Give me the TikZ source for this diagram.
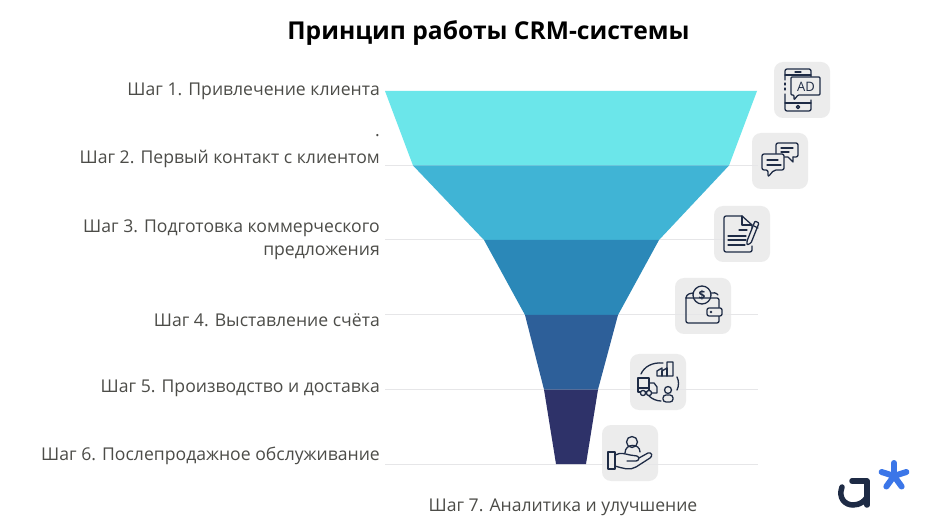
\documentclass[tikz,border=0pt]{standalone}
\usepackage{fontspec}
\setmainfont{Open Sans}
\definecolor{seglight}{HTML}{6BE6EA}
\definecolor{segsky}{HTML}{40B4D5}
\definecolor{segmid}{HTML}{2B88B8}
\definecolor{segdeep}{HTML}{2D5F99}
\definecolor{segnavy}{HTML}{2E3269}
\definecolor{guide}{HTML}{E6E6E8}
\definecolor{tilegray}{HTML}{ECECEC}
\definecolor{inkdark}{HTML}{1E2B45}
\definecolor{textgray}{HTML}{4C4C48}
\definecolor{logoblue}{HTML}{3B76E8}
\tikzset{
  steplabel/.style={anchor=east, align=right, text=textgray, font=\fontsize{17.6}{23}\selectfont, inner sep=0pt},
  tilebox/.style={fill=tilegray, rounded corners=9pt, minimum size=56pt, inner sep=0pt},
  guideline/.style={draw=guide, line width=1pt},
  ink/.style={draw=inkdark, line width=1.3pt, line join=round, line cap=round}
}
\begin{document}
\begin{tikzpicture}[x=1pt,y=-1pt]
  \useasboundingbox (0,0) rectangle (940,529);
  \fill[white] (0,0) rectangle (940,529);

  \node[font=\bfseries\fontsize{24.6}{28}\selectfont, text=black] (title) at (488.5,33) {Принцип работы CRM-системы};

  % tiles
  \node[tilebox] (tile1) at (802,90) {};
  \node[tilebox] (tile2) at (780,161) {};
  \node[tilebox] (tile3) at (742,234) {};
  \node[tilebox] (tile4) at (703,306) {};
  \node[tilebox] (tile5) at (658,382) {};
  \node[tilebox] (tile6) at (630,453) {};

  % guide lines
  \foreach \y in {165.5,240,315,389.5,464}
    \draw[guideline] (385,\y) -- (758,\y);

  % funnel
  \fill[seglight] (385,91) -- (757,91) -- (729,165.5) -- (413,165.5) -- cycle;
  \fill[segsky] (413,165.5) -- (729,165.5) -- (659,240) -- (484,240) -- cycle;
  \fill[segmid] (484,240) -- (659,240) -- (618,315) -- (525,315) -- cycle;
  \fill[segdeep] (525,315) -- (618,315) -- (598,389.5) -- (544,389.5) -- cycle;
  \fill[segnavy] (544,389.5) -- (598,389.5) -- (586,464) -- (556,464) -- cycle;

  % labels
  \node[steplabel] (step1) at (380,91) {Шаг 1. Привлечение клиента};
  \node[steplabel] (dot) at (380,136) {.};
  \node[steplabel] (step2) at (380,159) {Шаг 2. Первый контакт с клиентом};
  \node[steplabel] (step3) at (380,239.5) {Шаг 3. Подготовка коммерческого\\предложения};
  \node[steplabel] (step4) at (380,320) {Шаг 4. Выставление счёта};
  \node[steplabel] (step5) at (380,388) {Шаг 5. Производство и доставка};
  \node[steplabel] (step6) at (380,456) {Шаг 6. Послепродажное обслуживание};
  \node[steplabel, anchor=center] (step7) at (563,507) {Шаг 7. Аналитика и улучшение};

  % phone with AD
  \begin{scope}[shift={(tile1.center)}]
    \draw[ink, rounded corners=2pt] (9,-13) -- (9,-21) -- (-17,-21) -- (-17,-10);
    \draw[ink, rounded corners=2pt] (-17,4) -- (-17,21) -- (9,21) -- (9,10);
    \draw[ink] (-17,-7) -- (-17,-5) (-17,-2) -- (-17,0);
    \draw[ink] (-17,-15) -- (9,-15) (-17,13) -- (9,13);
    \draw[ink] (-7,-18) -- (-1,-18);
    \draw[ink] (-4,17) circle (1.6);
    \draw[ink, fill=tilegray, rounded corners=1pt] (-11,-13) -- (18,-13) -- (18,5) -- (-4,5) -- (-8,10) -- (-8,5) -- (-11,5) -- cycle;
    \node[font=\fontsize{13}{13}\selectfont, text=inkdark, inner sep=0pt] (adtext) at (4,-3.5) {AD};
  \end{scope}

  % chat bubbles
  \begin{scope}[shift={(tile2.center)}]
    \draw[ink, rounded corners=2pt] (13,-4) -- (18,-4) -- (18,-18) -- (-4,-18) -- (-4,-7);
    \draw[ink] (8,-4) -- (13,1) -- (13,-4) (4,-4) -- (8,-4);
    \draw[ink] (1,-13) -- (13,-13) (1,-9) -- (9,-9);
    \draw[ink, fill=tilegray, rounded corners=2pt] (-18,-7) -- (4,-7) -- (4,9) -- (-6,9) -- (-12,16) -- (-12,9) -- (-18,9) -- cycle;
    \draw[ink] (-13,-1) -- (-2,-1) (-13,4) -- (1,4);
  \end{scope}

  % document and pen
  \begin{scope}[shift={(tile3.center)}]
    \draw[ink, rounded corners=2pt] (0,-18) -- (-18,-18) -- (-18,18) -- (10,18) -- (10,12);
    \draw[ink] (0,-18) -- (10,-9) -- (10,-4);
    \draw[ink] (0,-18) -- (0,-9) -- (10,-9);
    \draw[ink] (-3,-4) -- (5,-4) (-14,2) -- (4,2) (-14,6) -- (4,6) (-14,11) -- (3,11);
    \draw[ink, fill=tilegray, rounded corners=1pt] (5,7) -- (13,-13) -- (17,-11) -- (9,9) -- (5,11) -- cycle;
    \draw[ink] (12,-8) -- (16,-6);
  \end{scope}

  % wallet
  \begin{scope}[shift={(tile4.center)}]
    \draw[ink] (-17,-8) .. controls (-17,-12) and (-12,-13) .. (-9,-13);
    \draw[ink] (7,-13) .. controls (10,-14) and (14,-13) .. (15,-11);
    \draw[ink, fill=tilegray] (-1,-11) circle (9);
    \node[font=\bfseries\fontsize{12}{12}\selectfont, text=inkdark, inner sep=0pt] (dollar) at (-1,-11) {\$};
    \draw[ink, rounded corners=2pt] (-17,-8) -- (-17,17) -- (16,17) -- (16,10);
    \draw[ink, rounded corners=2pt] (16,2) -- (16,-8) -- (-17,-8);
    \draw[ink, fill=tilegray, rounded corners=2pt] (4,2) -- (19,2) -- (19,10) -- (4,10) -- cycle;
    \fill[inkdark] (8,6) circle (1.3);
  \end{scope}

  % truck with cycle
  \begin{scope}[shift={(tile5.center)}]
    \draw[ink] (-17,-8) .. controls (-14,-15) and (-6,-20) .. (5,-19);
    \draw[ink] (19,-5) .. controls (21,-1) and (21,4) .. (19,8);
    \draw[ink] (-9,14) .. controls (-6,17) and (-1,19) .. (3,19);
    \draw[ink] (-20,-4) rectangle (-9,10);
    \draw[ink] (-9,1) -- (-4,1) -- (-1,5) -- (-1,11) -- (-6,11);
    \draw[ink] (-20,6) -- (-9,6);
    \draw[ink, fill=tilegray] (-15,11) circle (2.6) (-9,11) circle (2.6);
    \draw[ink] (-1,-6) -- (-1,-11) -- (4,-14) -- (4,-11) -- (9,-14) -- (9,-20) -- (15,-20) -- (15,-6) -- cycle;
    \draw[ink] (9,-14) -- (9,-6) (4,-11) -- (4,-6);
    \draw[ink, fill=tilegray] (10,8) circle (3.5);
    \draw[ink, fill=tilegray, rounded corners=3pt] (5,20) -- (5,13) -- (15,13) -- (15,20) -- cycle;
  \end{scope}

  % hand with person
  \begin{scope}[shift={(tile6.center)}]
    \draw[ink] (2,-11) circle (5.5);
    \draw[ink] (-5,0) .. controls (-5,-10) and (10,-10) .. (10,-1);
    \draw[ink] (-15,2) .. controls (-9,-1) and (-5,1) .. (0,2) -- (7,3) .. controls (10,4) and (9,8) .. (6,8) -- (-3,8);
    \draw[ink] (9,5) -- (18,0) .. controls (22,-1) and (23,3) .. (20,5) -- (6,14) .. controls (0,18) and (-8,15) .. (-15,13);
    \draw[ink] (-22,-1) -- (-15,-1) -- (-15,16) -- (-22,16) -- cycle;
  \end{scope}

  % logo
  \draw[inkdark, line width=5.5pt, line cap=round, line join=round] (852,481) -- (867,481) -- (867,505);
  \draw[inkdark, line width=5.5pt, line cap=round] (842,487) .. controls (838,498) and (845,505) .. (853,505) .. controls (860,505) and (865,501) .. (867,497);
  \foreach \a in {90,162,234,306,18}
    \draw[logoblue, line width=6pt, line cap=round] (894,476) -- +({\a}:-13);
\end{tikzpicture}
\end{document}
